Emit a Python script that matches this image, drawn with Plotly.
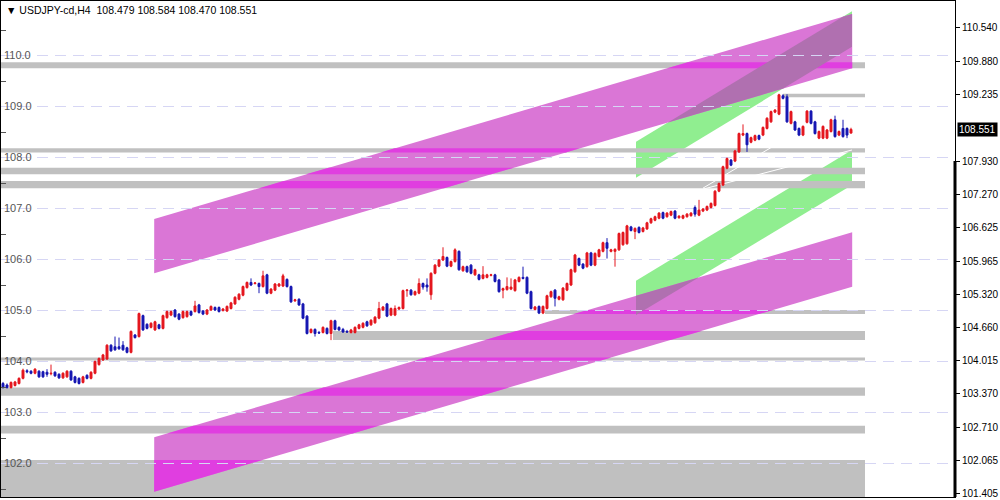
import plotly.graph_objects as go

# ---------------- data (USDJPY H4 candles) ----------------
OPEN = [103.57,103.54,103.49,103.53,103.57,103.67,103.82,103.81,103.77,103.81,
        103.80,103.79,103.76,103.79,103.75,103.68,103.70,103.81,103.70,103.67,
        103.59,103.73,103.67,103.77,103.94,104.03,104.05,104.32,104.29,104.29,
        104.32,104.27,104.18,104.52,104.49,104.90,104.73,104.67,104.62,104.72,
        104.65,104.86,104.91,105.01,104.93,104.86,104.88,104.98,104.98,105.11,
        104.99,104.93,105.01,105.06,105.06,105.00,104.99,105.04,105.13,105.22,
        105.30,105.45,105.55,105.53,105.53,105.47,105.70,105.34,105.40,105.48,
        105.48,105.61,105.47,105.19,105.22,105.13,104.89,104.57,104.63,104.57,
        104.57,104.65,104.55,104.80,104.67,104.63,104.59,104.57,104.57,104.65,
        104.67,104.78,104.72,104.76,104.85,105.01,105.13,104.91,104.91,105.03,
        105.04,105.39,105.40,105.31,105.34,105.53,105.50,105.31,105.73,105.87,
        105.99,106.04,105.87,105.96,106.16,105.78,105.86,105.89,105.70,105.70,
        105.63,105.65,105.69,105.70,105.60,105.40,105.41,105.42,105.39,105.57,
        105.65,105.65,105.37,105.02,105.08,104.95,105.04,105.27,105.40,105.22,
        105.21,105.40,105.50,105.76,106.02,105.91,105.86,106.13,105.89,106.06,
        106.16,106.33,106.16,106.16,106.19,106.29,106.31,106.64,106.55,106.63,
        106.55,106.60,106.72,106.77,106.81,106.92,106.84,106.87,106.95,106.82,
        106.81,106.84,106.86,107.02,106.87,106.95,106.97,107.02,107.06,107.34,
        107.46,107.79,107.95,107.93,108.11,108.44,108.47,108.30,108.34,108.43,
        108.44,108.57,108.70,108.89,108.85,109.21,109.19,108.67,108.70,108.57,
        108.44,108.69,108.91,108.70,108.38,108.38,108.38,108.51,108.74,108.44,
        108.57,108.57,108.479]
HIGH = [103.60,103.57,103.61,103.62,103.69,103.86,103.85,103.83,103.87,103.83,
        103.82,103.85,103.94,103.81,103.77,103.79,103.83,103.83,103.72,103.69,
        103.72,103.75,103.81,104.02,104.08,104.15,104.34,104.34,104.49,104.47,
        104.40,104.29,104.61,104.54,104.96,104.92,104.75,104.77,104.80,104.74,
        104.92,105.00,105.00,105.03,104.95,105.00,105.00,105.00,105.19,105.13,
        105.01,105.03,105.10,105.08,105.08,105.05,105.10,105.17,105.28,105.34,
        105.49,105.57,105.63,105.56,105.55,105.78,105.72,105.44,105.54,105.54,
        105.72,105.63,105.49,105.23,105.24,105.15,104.91,104.65,104.65,104.60,
        104.69,104.67,104.82,104.82,104.69,104.66,104.62,104.64,104.69,104.74,
        104.77,104.80,104.83,104.89,105.17,105.09,105.15,105.06,105.10,105.08,
        105.41,105.42,105.42,105.39,105.63,105.55,105.63,105.75,105.91,106.01,
        106.24,106.06,105.98,106.22,106.18,105.88,105.88,105.91,105.82,105.72,
        105.87,105.72,105.72,105.72,105.62,105.45,105.65,105.63,105.62,105.67,
        105.86,105.67,105.39,105.09,105.10,105.10,105.31,105.39,105.42,105.29,
        105.46,105.55,105.82,106.11,106.04,105.93,106.15,106.15,106.14,106.21,
        106.35,106.42,106.21,106.22,106.53,106.55,106.68,106.66,106.63,106.65,
        106.64,106.74,106.82,106.86,106.93,106.94,106.93,106.96,106.97,106.87,
        106.88,106.91,106.93,107.06,107.17,107.01,107.06,107.12,107.36,107.51,
        107.84,108.00,107.97,108.15,108.49,108.65,108.49,108.41,108.45,108.45,
        108.61,108.79,108.92,108.95,109.25,109.24,109.24,108.92,108.72,108.59,
        108.63,108.93,108.93,108.72,108.53,108.63,108.56,108.76,108.82,108.53,
        108.74,108.59,108.584]
LOW = [103.47,103.47,103.47,103.51,103.55,103.65,103.77,103.75,103.75,103.68,
       103.68,103.70,103.73,103.70,103.66,103.66,103.68,103.62,103.57,103.55,
       103.57,103.65,103.65,103.75,103.92,104.01,104.03,104.19,104.21,104.23,
       104.21,104.16,104.16,104.45,104.47,104.60,104.63,104.65,104.60,104.63,
       104.63,104.84,104.89,104.86,104.81,104.84,104.86,104.89,104.96,104.94,
       104.91,104.91,104.99,104.99,104.96,104.98,104.97,105.02,105.11,105.20,
       105.28,105.43,105.48,105.51,105.34,105.45,105.32,105.32,105.38,105.46,
       105.46,105.45,105.15,105.17,105.09,104.83,104.53,104.55,104.49,104.54,
       104.55,104.53,104.42,104.61,104.60,104.56,104.56,104.55,104.55,104.63,
       104.65,104.68,104.70,104.74,104.83,104.99,104.87,104.89,104.89,105.01,
       105.02,105.27,105.29,105.29,105.32,105.41,105.37,105.21,105.71,105.85,
       105.97,105.85,105.85,105.94,105.78,105.76,105.74,105.71,105.68,105.59,
       105.61,105.63,105.67,105.55,105.35,105.24,105.39,105.40,105.37,105.55,
       105.61,105.32,105.02,105.00,104.93,104.93,105.02,105.25,105.08,105.20,
       105.19,105.38,105.48,105.74,105.87,105.81,105.84,105.87,105.87,106.04,
       106.14,106.02,106.14,105.86,106.17,106.27,106.29,106.55,106.40,106.51,
       106.53,106.58,106.70,106.75,106.79,106.79,106.82,106.85,106.79,106.80,
       106.79,106.82,106.84,106.84,106.85,106.93,106.95,107.00,107.04,107.32,
       107.44,107.77,107.83,107.91,108.09,108.42,108.11,108.28,108.32,108.34,
       108.42,108.55,108.68,108.87,108.83,109.14,108.68,108.65,108.52,108.42,
       108.42,108.67,108.65,108.45,108.36,108.36,108.36,108.49,108.39,108.42,
       108.39,108.38,108.470]
CLOSE = [103.49,103.49,103.59,103.60,103.67,103.83,103.80,103.77,103.85,103.70,
         103.70,103.75,103.77,103.72,103.68,103.77,103.81,103.64,103.59,103.57,
         103.70,103.67,103.79,104.00,104.06,104.13,104.32,104.21,104.23,104.25,
         104.23,104.18,104.59,104.47,104.94,104.62,104.65,104.75,104.78,104.65,
         104.90,104.98,104.98,104.88,104.83,104.98,104.98,104.91,105.09,104.96,
         104.93,105.01,105.08,105.01,104.98,105.03,105.08,105.15,105.26,105.32,
         105.47,105.55,105.50,105.54,105.47,105.68,105.34,105.42,105.52,105.52,
         105.68,105.47,105.17,105.21,105.11,104.85,104.55,104.63,104.55,104.56,
         104.67,104.55,104.80,104.63,104.62,104.58,104.58,104.62,104.67,104.72,
         104.75,104.70,104.81,104.87,105.04,105.07,104.89,105.04,105.04,105.06,
         105.39,105.40,105.31,105.37,105.53,105.46,105.46,105.73,105.89,105.99,
         106.06,105.87,105.96,106.19,105.80,105.86,105.76,105.73,105.80,105.61,
         105.70,105.70,105.70,105.57,105.37,105.43,105.47,105.46,105.60,105.65,
         105.63,105.34,105.04,105.07,104.95,105.08,105.29,105.37,105.24,105.27,
         105.44,105.53,105.80,106.09,105.89,105.83,106.13,105.89,106.12,106.19,
         106.33,106.22,106.19,106.20,106.51,106.53,106.66,106.57,106.61,106.53,
         106.62,106.72,106.80,106.84,106.91,106.81,106.91,106.94,106.81,106.85,
         106.86,106.89,106.91,106.89,106.97,106.99,107.04,107.10,107.34,107.49,
         107.82,107.98,107.85,108.13,108.47,108.47,108.25,108.39,108.43,108.36,
         108.59,108.77,108.90,108.93,109.23,109.16,108.70,108.90,108.54,108.44,
         108.61,108.91,108.67,108.47,108.51,108.61,108.54,108.74,108.41,108.51,
         108.41,108.44,108.551]
BAR = list(range(len(OPEN)))

SYMBOL = "USDJPY-cd,H4"
RIGHT_TICKS = [110.540, 109.880, 109.235, 107.930, 107.270, 106.625, 105.965,
               105.320, 104.660, 104.015, 103.370, 102.710, 102.065, 101.405]
LEFT_LABELS = [102, 103, 104, 105, 106, 107, 108, 109, 110]
LEFT_MINOR = [101.5, 102.5, 103.5, 104.5, 105.5, 106.5, 107.5, 108.5, 109.5, 110.5]
PRICE_RANGE = [101.344, 111.069]
BAR_RANGE = [-0.5, 238]
HIGHLIGHT_FROM = 107.930

# support / resistance zones: (low, high, first bar, last bar)
ZONE_LOW = [109.75, 109.18, 108.10, 107.67, 107.40, 104.93, 104.42, 104.02, 103.33, 102.59, 101.0]
ZONE_HIGH = [109.87, 109.25, 108.18, 107.80, 107.54, 105.01, 104.60, 104.08, 103.49, 102.74, 102.07]
ZONE_START = [-0.5, 195, -0.5, -0.5, -0.5, 135.5, 82.5, -0.5, -0.5, -0.5, -0.5]
ZONE_END = [215.5] * 11

# channels: bar at left/right, top & bottom price at left/right
PINK_X = [37.8, 212.3]
PINK_UP_TOP = [106.795, 110.815]
PINK_UP_BOT = [105.73, 109.75]
PINK_LO_TOP = [102.515, 106.534]
PINK_LO_BOT = [101.448, 105.467]
GREEN_X = [158.25, 212.25]
GREEN_UP_TOP = [108.31, 110.87]
GREEN_UP_BOT = [107.605, 110.17]
GREEN_LO_TOP = [105.585, 108.148]
GREEN_LO_BOT = [104.91, 107.46]

# white trend lines (bar, price)
TREND_A_X = [175.0, 192.25]
TREND_A_Y = [107.40, 108.207]
TREND_B_X = [175.0, 212.25]
TREND_B_Y = [107.38, 108.148]

GREY = "#c0c0c0"
PINK = "#da76d6"
PINK_ON_GREY = "#e03ee0"
GREEN = "#90ee90"
PINK_ON_GREEN = "#b070b0"


def channel(xs, top, bot):
    return [(xs[0], bot[0]), (xs[1], bot[1]), (xs[1], top[1]), (xs[0], top[0])]


def rect(x0, x1, y0, y1):
    return [(x0, y0), (x1, y0), (x1, y1), (x0, y1)]


def ccw(poly):
    a = sum(poly[i][0] * poly[(i + 1) % len(poly)][1] - poly[(i + 1) % len(poly)][0] * poly[i][1]
            for i in range(len(poly)))
    return poly if a > 0 else poly[::-1]


def clip(subject, clipper):
    clipper = ccw(clipper)

    def inside(p, a, b):
        return (b[0] - a[0]) * (p[1] - a[1]) - (b[1] - a[1]) * (p[0] - a[0]) >= 0

    def inter(p, q, a, b):
        x1, y1 = p; x2, y2 = q; x3, y3 = a; x4, y4 = b
        d = (x1 - x2) * (y3 - y4) - (y1 - y2) * (x3 - x4)
        t = ((x1 - x3) * (y3 - y4) - (y1 - y3) * (x3 - x4)) / d
        return (x1 + t * (x2 - x1), y1 + t * (y2 - y1))

    out = list(subject)
    for i in range(len(clipper)):
        a, b = clipper[i], clipper[(i + 1) % len(clipper)]
        inp, out = out, []
        if not inp:
            break
        s = inp[-1]
        for e in inp:
            if inside(e, a, b):
                if not inside(s, a, b):
                    out.append(inter(s, e, a, b))
                out.append(e)
            elif inside(s, a, b):
                out.append(inter(s, e, a, b))
            s = e
    return out


def path(poly):
    return "M " + " L ".join(f"{x:.4f},{y:.4f}" for x, y in poly) + " Z"


shapes = []


def add_poly(poly, color):
    if len(poly) >= 3:
        shapes.append(dict(type="path", xref="x", yref="y", path=path(poly),
                           fillcolor=color, line=dict(width=0), layer="below"))


greens = [channel(GREEN_X, GREEN_UP_TOP, GREEN_UP_BOT), channel(GREEN_X, GREEN_LO_TOP, GREEN_LO_BOT)]
pinks = [channel(PINK_X, PINK_UP_TOP, PINK_UP_BOT), channel(PINK_X, PINK_LO_TOP, PINK_LO_BOT)]
zones = [rect(ZONE_START[k], ZONE_END[k], ZONE_LOW[k], ZONE_HIGH[k]) for k in range(len(ZONE_LOW))]

for g in greens:
    add_poly(g, GREEN)
for z in zones:
    add_poly(z, GREY)
for p in pinks:
    add_poly(p, PINK)
for p in pinks:
    for z in zones:
        add_poly(clip(p, z), PINK_ON_GREY)
    for g in greens:
        add_poly(clip(p, g), PINK_ON_GREEN)

for tx, ty in ((TREND_A_X, TREND_A_Y), (TREND_B_X, TREND_B_Y)):
    shapes.append(dict(type="line", xref="x", yref="y", x0=tx[0], x1=tx[1], y0=ty[0], y1=ty[1],
                       line=dict(color="white", width=1), layer="below"))

# thick highlight on right price scale
shapes.append(dict(type="line", xref="paper", yref="y", x0=1, x1=1,
                   y0=PRICE_RANGE[0], y1=HIGHLIGHT_FROM, line=dict(color="black", width=3)))

fig = go.Figure()
fig.add_trace(go.Candlestick(
    x=BAR, open=OPEN, high=HIGH, low=LOW, close=CLOSE,
    increasing=dict(line=dict(color="#e4161e", width=1), fillcolor="#e4161e"),
    decreasing=dict(line=dict(color="#1616b2", width=1), fillcolor="#1616b2"),
    whiskerwidth=0, showlegend=False, hoverinfo="skip"))
fig.add_trace(go.Scatter(x=[BAR[0]], y=[CLOSE[0]], yaxis="y2", mode="markers",
                         marker=dict(opacity=0), showlegend=False, hoverinfo="skip"))

font = "Liberation Sans, Arial, sans-serif"
fig.update_layout(
    width=1000, height=500,
    margin=dict(l=1, r=45, t=1, b=3),
    paper_bgcolor="white", plot_bgcolor="white",
    font=dict(family=font, size=10, color="black"),
    shapes=shapes,
    xaxis=dict(range=BAR_RANGE, showticklabels=False, showgrid=False, zeroline=False,
               showline=True, mirror=True, linecolor="black", linewidth=1,
               rangeslider=dict(visible=False), ticks=""),
    yaxis=dict(range=PRICE_RANGE, side="right", tickmode="array", tickvals=RIGHT_TICKS,
               ticktext=[f"{v:.3f}" for v in RIGHT_TICKS], ticks="outside", ticklen=4,
               tickcolor="black", showgrid=False, zeroline=False, showline=True,
               mirror=True, linecolor="black", linewidth=1,
               tickfont=dict(family=font, size=10, color="black")),
    yaxis2=dict(range=PRICE_RANGE, overlaying="y", side="left", tickmode="array",
                tickvals=LEFT_LABELS, ticktext=[f"{v:.1f}" for v in LEFT_LABELS],
                ticklabelposition="inside", ticks="", showgrid=True,
                gridcolor="#d6d6f4", griddash="11px,7px", gridwidth=1,
                zeroline=False, showline=False,
                minor=dict(tickmode="array", tickvals=LEFT_MINOR, ticks="inside",
                           ticklen=5, tickcolor="#555555", showgrid=False),
                tickfont=dict(family=font, size=11, color="#555555")),
    annotations=[
        dict(xref="paper", yref="paper", x=0, y=1, xanchor="left", yanchor="top",
             xshift=3, yshift=-1, showarrow=False,
             text=f"▼ {SYMBOL}  {OPEN[-1]:.3f} {HIGH[-1]:.3f} {LOW[-1]:.3f} {CLOSE[-1]:.3f}",
             font=dict(family=font, size=10.5, color="black")),
        dict(xref="paper", yref="y", x=1, y=CLOSE[-1], xanchor="left", yanchor="middle",
             xshift=2, showarrow=False, text=f"{CLOSE[-1]:.3f}", bgcolor="black",
             borderpad=1, font=dict(family=font, size=10, color="white")),
    ],
)

fig.write_html("out.html", config={"displayModeBar": False},
               post_script="document.body.style.margin='0';")
